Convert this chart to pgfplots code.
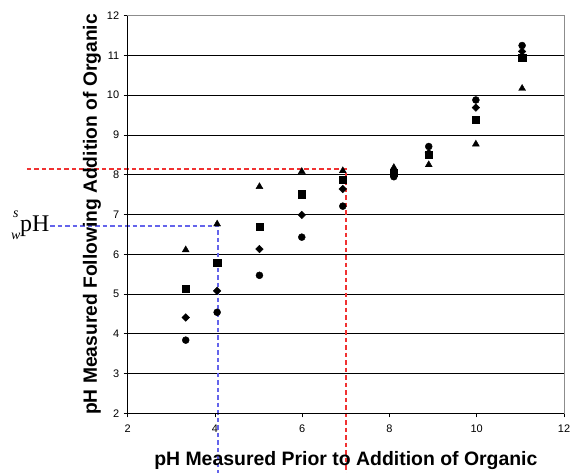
\documentclass[border=0pt]{standalone}
\usepackage{fontspec}
\setmainfont{Liberation Sans}
\newfontfamily\timesfont{Liberation Serif}
\usepackage{pgfplots}
\pgfplotsset{compat=1.18}
\definecolor{dred}{RGB}{240,50,50}
\definecolor{guideblue}{RGB}{100,100,235}
\begin{document}
\begin{tikzpicture}
\begin{axis}[
  at={(0,0)}, anchor=south west,
  scale only axis, width=436.3bp, height=397.6bp,
  xmin=2, xmax=12, ymin=2, ymax=12,
  xtick={2,4,...,12}, ytick={2,3,...,12},
  minor tick num=0,
  tick pos=left, tick align=outside, major tick length=4bp,
  tick style={black, line width=0.8bp},
  ymajorgrids, major grid style={black, line width=0.8bp},
  axis line style={gray!90, line width=1bp},
  /pgf/number format/assume math mode=true,
  ticklabel style={font=\fontsize{11}{13}\selectfont},
  xticklabel style={yshift=-4bp},
  yticklabel style={xshift=-1bp},
  clip=false,
  xlabel={pH Measured Prior to Addition of Organic},
  ylabel={pH Measured Following Addition of Organic},
  xlabel style={font=\bfseries\fontsize{19.5}{21}\selectfont, at={(axis description cs:0.5,-0.1325)}, anchor=base},
  ylabel style={font=\bfseries\fontsize{19.3}{21}\selectfont, at={(axis description cs:-0.0704,0.5)}, anchor=base},
]
% dashed guide lines
\addplot[forget plot, draw=guideblue, line width=1.8bp, dash pattern=on 4.5bp off 3bp] coordinates {(0.22,6.72) (4.07,6.72) (4.07,0.45)};
\addplot[forget plot, draw=dred, line width=1.6bp, dash pattern=on 4.5bp off 3bp] coordinates {(-0.31,8.14) (7.0,8.14) (7.0,0.45)};
% triangles
\addplot[only marks, mark=triangle*, mark size=4bp, black] coordinates {
(3.33,6.11) (4.05,6.76) (5.02,7.70) (5.99,8.08) (6.93,8.10) (8.10,8.18) (8.90,8.25) (9.98,8.77) (11.04,10.17)};
% squares
\addplot[only marks, mark=square*, mark size=3.7bp, black] coordinates {
(3.33,5.14) (4.05,5.79) (5.02,6.69) (5.99,7.51) (6.93,7.87) (8.10,8.05) (8.90,8.50) (9.98,9.39) (11.04,10.95)};
% diamonds
\addplot[only marks, mark=square*, mark size=2.7bp, mark options={rotate=45}, black] coordinates {
(3.33,4.41) (4.05,5.08) (5.02,6.13) (5.99,6.99) (6.93,7.64) (8.10,8.00) (8.90,8.55) (9.98,9.69) (11.04,11.10)};
% circles
\addplot[only marks, mark=*, mark size=3.5bp, black] coordinates {
(3.33,3.84) (4.05,4.54) (5.02,5.47) (5.99,6.43) (6.93,7.21) (8.10,7.95) (8.90,8.71) (9.98,9.88) (11.04,11.25)};
\draw[black, line width=1bp] (rel axis cs:0,1) -- (rel axis cs:0,0) -- (rel axis cs:1,0);
\node[anchor=base west, inner sep=0, font=\timesfont\fontsize{24}{24}\selectfont] at (axis cs:-0.468,6.56)
  {\llap{\raisebox{14bp}{\makebox[9bp][c]{\fontsize{14}{14}\selectfont\itshape s}}}\llap{\raisebox{-8bp}{\makebox[9bp][c]{\fontsize{14}{14}\selectfont\itshape w}}}pH};
\end{axis}
\pgfresetboundingbox
\useasboundingbox (-127.7bp,-59.7bp) rectangle (443.3bp,413.3bp);
\end{tikzpicture}
\end{document}
